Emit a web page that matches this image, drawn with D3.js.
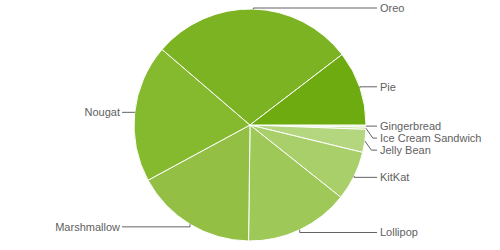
<!DOCTYPE html>
<html>
<head>
<meta charset="utf-8">
<script src="https://cdn.jsdelivr.net/npm/d3@7"></script>
<style>
  body { margin: 0; background: #fff; }
  text { font-family: Arial, "Liberation Sans", sans-serif; font-size: 11px; fill: #616161; }
</style>
</head>
<body>
<div id="chart"></div>
<script>
  const versions = ["Gingerbread", "Ice Cream Sandwich", "Jelly Bean", "KitKat", "Lollipop",
                    "Marshmallow", "Nougat", "Oreo", "Pie"];
  const shares = [0.3, 0.3, 3.2, 6.9, 14.5, 16.9, 19.2, 28.3, 10.4];
  const sliceColors = ["#cfe6ab", "#c2de95", "#b4d67e", "#a8cf6a", "#9ec857",
                       "#93c044", "#86ba2e", "#7cb322", "#6eab10"];

  const width = 500;
  const height = 250;
  const cx = 250, cy = 125, radius = 116;
  const labelRadius = 119;
  const labelTop = 8;
  const rightTextX = 380, leftTextX = 120;

  const svg = d3.select("#chart")
    .append("svg")
    .attr("width", width)
    .attr("height", height);

  const data = versions.map((v, i) => ({ name: v, value: shares[i], color: sliceColors[i] }));

  // pie starts at 3 o'clock and goes clockwise
  const pie = d3.pie()
    .sort(null)
    .value(d => d.value)
    .startAngle(Math.PI / 2)
    .endAngle(Math.PI / 2 + 2 * Math.PI);

  const arcs = pie(data);
  const arc = d3.arc().innerRadius(0).outerRadius(radius);

  const g = svg.append("g").attr("transform", `translate(${cx},${cy})`);

  g.selectAll("path")
    .data(arcs)
    .enter()
    .append("path")
    .attr("d", arc)
    .attr("fill", d => d.data.color)
    .attr("stroke", "#fff")
    .attr("stroke-width", 1);

  // label anchors on the edge of the pie, label rows a little further out
  const labels = arcs.map(a => {
    const mid = (a.startAngle + a.endAngle) / 2;
    const ax = cx + radius * Math.sin(mid);
    const ay = cy - radius * Math.cos(mid);
    const ly = Math.max(labelTop, cy - labelRadius * Math.cos(mid));
    const m = ((mid % (2 * Math.PI)) + 2 * Math.PI) % (2 * Math.PI);
    return { name: a.data.name, ax, ay, y: ly, right: m < Math.PI };
  });

  // push overlapping labels down on each side
  [true, false].forEach(side => {
    const list = labels.filter(l => l.right === side).sort((a, b) => a.ay - b.ay);
    for (let i = 1; i < list.length; i++) {
      if (list[i].y < list[i - 1].y + 12) list[i].y = list[i - 1].y + 12;
    }
  });

  const lab = svg.append("g");

  lab.selectAll("path")
    .data(labels)
    .enter()
    .append("path")
    .attr("fill", "none")
    .attr("stroke", "#636363")
    .attr("stroke-width", 1)
    .attr("d", l => {
      const dir = l.right ? 1 : -1;
      const dy = Math.abs(l.y - l.ay);
      const bx = l.ax + dir * (dy > 5 ? dy * 0.7 : 0);
      const ex = l.right ? rightTextX - 3 : leftTextX + 2;
      return `M${l.ax},${l.ay}L${bx},${l.y}L${ex},${l.y}`;
    });

  lab.selectAll("text")
    .data(labels)
    .enter()
    .append("text")
    .attr("x", l => l.right ? rightTextX : leftTextX)
    .attr("y", l => l.y)
    .attr("dy", "0.35em")
    .attr("text-anchor", l => l.right ? "start" : "end")
    .text(l => l.name);
</script>
</body>
</html>
